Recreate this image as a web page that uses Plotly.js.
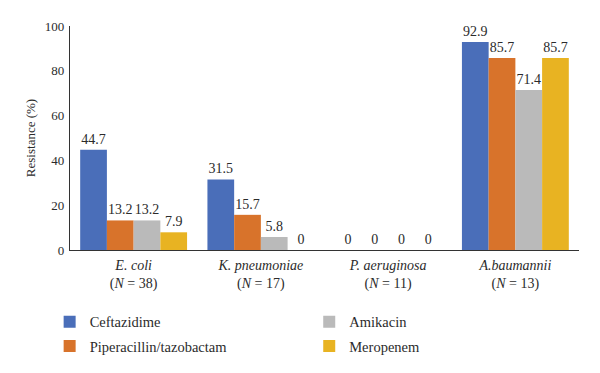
<!DOCTYPE html>
<html>
<head>
<meta charset="utf-8">
<script src="https://cdn.plot.ly/plotly-3.0.1.min.js"></script>
<style>
html,body{margin:0;padding:0;background:#fff;}
#chart{width:600px;height:373px;}
</style>
</head>
<body>
<div id="chart"></div>
<script>
const categories = ["E. coli", "K. pneumoniae", "P. aeruginosa", "A.baumannii"];
const sampleSizes = [38, 17, 11, 13];
const seriesNames = ["Ceftazidime", "Piperacillin/tazobactam", "Amikacin", "Meropenem"];
const ceftazidime = [44.7, 31.5, 0, 92.9];
const piperacillin = [13.2, 15.7, 0, 85.7];
const amikacin = [13.2, 5.8, 0, 71.4];
const meropenem = [7.9, 0, 0, 85.7];
const yTicks = [0, 20, 40, 60, 80, 100];

const colors = ["#4A6EB9", "#D8732B", "#BABABA", "#E8B322"];
const seriesValues = [ceftazidime, piperacillin, amikacin, meropenem];
const legendIds = ["legend", "legend", "legend2", "legend2"];
const tickText = categories.map((c, i) => "<i>" + c + "</i><br>(<i>N</i> = " + sampleSizes[i] + ")");

const font = "Liberation Serif";

const traces = seriesNames.map((name, i) => ({
  type: "bar",
  name: name,
  x: categories,
  y: seriesValues[i],
  text: seriesValues[i].map(v => String(v)),
  textposition: "outside",
  cliponaxis: false,
  textfont: {family: font, size: 14, color: "#2b2b2b"},
  marker: {color: colors[i], line: {width: 0}},
  legend: legendIds[i],
  legendgroup: "g" + i,
  hoverinfo: "skip"
}));

const legendCommon = {
  orientation: "v",
  traceorder: "grouped",
  tracegroupgap: 2.5,
  font: {family: font, size: 14.5, color: "#2b2b2b"},
  bgcolor: "rgba(0,0,0,0)",
  xanchor: "left",
  yanchor: "top",
  itemclick: false,
  itemdoubleclick: false
};

const layout = {
  width: 600,
  height: 373,
  margin: {l: 70, r: 21, t: 26, b: 123, autoexpand: false},
  paper_bgcolor: "#fff",
  plot_bgcolor: "#fff",
  barmode: "group",
  bargap: 0.16,
  bargroupgap: 0,
  showlegend: true,
  legend: Object.assign({}, legendCommon, {x: -0.04, y: -0.249}),
  legend2: Object.assign({}, legendCommon, {x: 0.47, y: -0.249}),
  xaxis: {
    tickmode: "array",
    tickvals: categories,
    ticktext: tickText,
    showline: true,
    linecolor: "#333",
    linewidth: 1.2,
    ticks: "",
    ticklabelstandoff: 2,
    showgrid: false,
    zeroline: false,
    tickfont: {family: font, size: 14, color: "#2b2b2b"},
    fixedrange: true
  },
  yaxis: {
    range: [0, 100],
    tickmode: "array",
    tickvals: yTicks,
    ticktext: yTicks.map(String),
    showline: true,
    linecolor: "#333",
    linewidth: 1.2,
    ticks: "",
    ticklabelstandoff: 2,
    showgrid: false,
    zeroline: false,
    tickfont: {family: font, size: 13, color: "#2b2b2b"},
    title: {text: "Resistance (%)", font: {family: font, size: 13, color: "#2b2b2b"}, standoff: 6},
    fixedrange: true
  }
};

Plotly.newPlot("chart", traces, layout, {displayModeBar: false, staticPlot: true});
</script>
</body>
</html>
